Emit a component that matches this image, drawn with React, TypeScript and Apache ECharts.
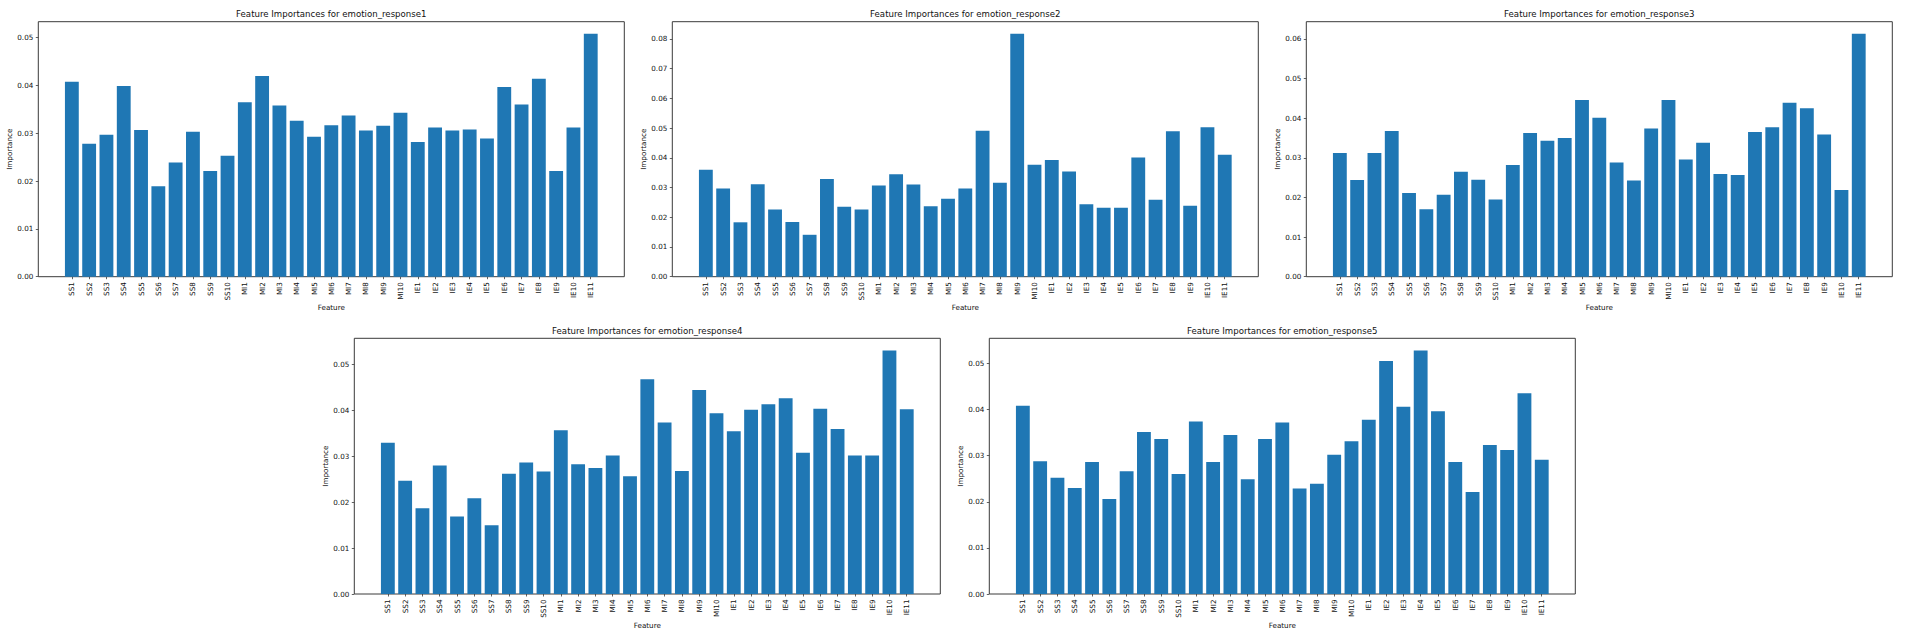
import React, { useEffect, useRef } from "react";
import * as echarts from "echarts";

// ---------- data ----------
const features = [
  "SS1", "SS2", "SS3", "SS4", "SS5", "SS6", "SS7", "SS8", "SS9", "SS10",
  "MI1", "MI2", "MI3", "MI4", "MI5", "MI6", "MI7", "MI8", "MI9", "MI10",
  "IE1", "IE2", "IE3", "IE4", "IE5", "IE6", "IE7", "IE8", "IE9", "IE10", "IE11",
];

const emotionResponse1 = [
  0.0408, 0.0278, 0.0297, 0.0399, 0.0307, 0.0189, 0.0239, 0.0303, 0.0221, 0.0253,
  0.0365, 0.0420, 0.0358, 0.0326, 0.0293, 0.0317, 0.0337, 0.0306, 0.0316, 0.0343,
  0.0282, 0.0312, 0.0306, 0.0308, 0.0289, 0.0397, 0.0360, 0.0414, 0.0221, 0.0312, 0.0508,
];
const emotionResponse2 = [
  0.0360, 0.0297, 0.0183, 0.0311, 0.0226, 0.0184, 0.0141, 0.0329, 0.0235, 0.0226,
  0.0307, 0.0345, 0.0310, 0.0237, 0.0262, 0.0297, 0.0491, 0.0316, 0.0817, 0.0377,
  0.0393, 0.0354, 0.0244, 0.0232, 0.0232, 0.0401, 0.0259, 0.0489, 0.0239, 0.0503, 0.0410,
];
const emotionResponse3 = [
  0.0312, 0.0244, 0.0312, 0.0368, 0.0211, 0.0170, 0.0207, 0.0265, 0.0245, 0.0195,
  0.0282, 0.0363, 0.0343, 0.0350, 0.0446, 0.0401, 0.0288, 0.0243, 0.0374, 0.0446,
  0.0296, 0.0338, 0.0259, 0.0257, 0.0365, 0.0377, 0.0439, 0.0425, 0.0359, 0.0219, 0.0613,
];
const emotionResponse4 = [
  0.0330, 0.0247, 0.0187, 0.0280, 0.0169, 0.0209, 0.0150, 0.0262, 0.0287, 0.0267,
  0.0357, 0.0283, 0.0275, 0.0302, 0.0257, 0.0468, 0.0374, 0.0268, 0.0445, 0.0394,
  0.0355, 0.0402, 0.0414, 0.0427, 0.0308, 0.0404, 0.0360, 0.0302, 0.0302, 0.0531, 0.0403,
];
const emotionResponse5 = [
  0.0408, 0.0288, 0.0252, 0.0230, 0.0286, 0.0206, 0.0266, 0.0351, 0.0336, 0.0260,
  0.0374, 0.0286, 0.0345, 0.0249, 0.0336, 0.0372, 0.0229, 0.0239, 0.0302, 0.0331,
  0.0378, 0.0505, 0.0406, 0.0528, 0.0396, 0.0286, 0.0221, 0.0323, 0.0312, 0.0435, 0.0291,
];

const yTicks1 = [0, 0.01, 0.02, 0.03, 0.04, 0.05];
const yTicks2 = [0, 0.01, 0.02, 0.03, 0.04, 0.05, 0.06, 0.07, 0.08];
const yTicks3 = [0, 0.01, 0.02, 0.03, 0.04, 0.05, 0.06];
const yTicks4 = [0, 0.01, 0.02, 0.03, 0.04, 0.05];
const yTicks5 = [0, 0.01, 0.02, 0.03, 0.04, 0.05];

const targets = [
  "emotion_response1",
  "emotion_response2",
  "emotion_response3",
  "emotion_response4",
  "emotion_response5",
];
const seriesValues = [emotionResponse1, emotionResponse2, emotionResponse3, emotionResponse4, emotionResponse5];
const seriesTicks = [yTicks1, yTicks2, yTicks3, yTicks4, yTicks5];

// ---------- layout (pixels) ----------
const PANEL_W = 586;
const UNIT = PANEL_W / 33.88; // matplotlib x-range incl. 5% margins
const INSET = 1.44 * UNIT;
const layout = [
  { left: 38.3, top: 21.7, height: 255, titleY: 14 },
  { left: 672.3, top: 21.7, height: 255, titleY: 14 },
  { left: 1306.3, top: 21.7, height: 255, titleY: 14 },
  { left: 354.3, top: 338.3, height: 255.7, titleY: 331 },
  { left: 989.3, top: 338.3, height: 255.7, titleY: 331 },
];

const FONT = "DejaVu Sans";
const BAR_COLOR = "#1f77b4";
const FRAME = "#3a3a3a";
const TEXT = "#111";

function buildOption() {
  const grid: any[] = [];
  const xAxis: any[] = [];
  const yAxis: any[] = [];
  const series: any[] = [];
  const title: any[] = [];

  layout.forEach((p, i) => {
    const values = seriesValues[i];
    const ticks = seriesTicks[i];
    const maxV = Math.max(...values) * 1.05;
    const outer = 2 * i;
    const inner = 2 * i + 1;

    grid.push({
      left: p.left,
      top: p.top,
      width: PANEL_W,
      height: p.height,
      show: true,
      borderColor: FRAME,
      borderWidth: 1,
      backgroundColor: "transparent",
      containLabel: false,
    });
    grid.push({
      left: p.left + INSET,
      top: p.top,
      width: PANEL_W - 2 * INSET,
      height: p.height,
      show: false,
      containLabel: false,
    });

    xAxis.push({ gridIndex: outer, type: "value", show: false, min: 0, max: 1 });
    yAxis.push({ gridIndex: outer, type: "value", show: false, min: 0, max: 1 });

    xAxis.push({
      gridIndex: inner,
      type: "category",
      data: features,
      boundaryGap: true,
      axisLine: { show: false },
      axisTick: {
        show: true,
        alignWithLabel: true,
        length: 2.5,
        lineStyle: { color: FRAME, width: 0.8 },
      },
      axisLabel: {
        interval: 0,
        rotate: 90,
        margin: 5.5,
        fontSize: 7.2,
        fontFamily: FONT,
        color: TEXT,
      },
      splitLine: { show: false },
      name: "Feature",
      nameLocation: "middle",
      nameGap: 26,
      nameTextStyle: { fontSize: 7.2, fontFamily: FONT, color: TEXT },
    });

    yAxis.push({
      gridIndex: inner,
      type: "value",
      min: 0,
      max: maxV,
      interval: 0.01,
      offset: INSET,
      axisLine: { show: false },
      axisTick: {
        show: true,
        length: 2.5,
        customValues: ticks,
        lineStyle: { color: FRAME, width: 0.8 },
      },
      axisLabel: {
        customValues: ticks,
        margin: 5,
        fontSize: 7.2,
        fontFamily: FONT,
        color: TEXT,
        formatter: (v: number) => v.toFixed(2),
      },
      splitLine: { show: false },
      name: "Importance",
      nameLocation: "middle",
      nameGap: 25,
      nameTextStyle: { fontSize: 7.2, fontFamily: FONT, color: TEXT },
    });

    series.push({
      type: "bar",
      xAxisIndex: inner,
      yAxisIndex: inner,
      data: values,
      barWidth: "80%",
      itemStyle: { color: BAR_COLOR },
      emphasis: { disabled: true },
    });

    title.push({
      text: "Feature Importances for " + targets[i],
      left: p.left + PANEL_W / 2,
      top: p.titleY - 5,
      padding: 0,
      textAlign: "center",
      textStyle: {
        fontSize: 8.6,
        fontWeight: "normal",
        fontFamily: FONT,
        color: TEXT,
      },
    });
  });

  return {
    animation: false,
    backgroundColor: "#ffffff",
    textStyle: { fontFamily: FONT },
    title,
    grid,
    xAxis,
    yAxis,
    series,
  };
}

export default function App() {
  const ref = useRef<HTMLDivElement>(null);

  useEffect(() => {
    if (!ref.current) return;
    const chart = echarts.init(ref.current, undefined, { renderer: "svg" });
    chart.setOption(buildOption() as any);
    return () => {
      chart.dispose();
    };
  }, []);

  return (
    <div
      ref={ref}
      style={{
        position: "fixed",
        left: 0,
        top: 0,
        width: 1906,
        height: 638,
        background: "#ffffff",
      }}
    />
  );
}
